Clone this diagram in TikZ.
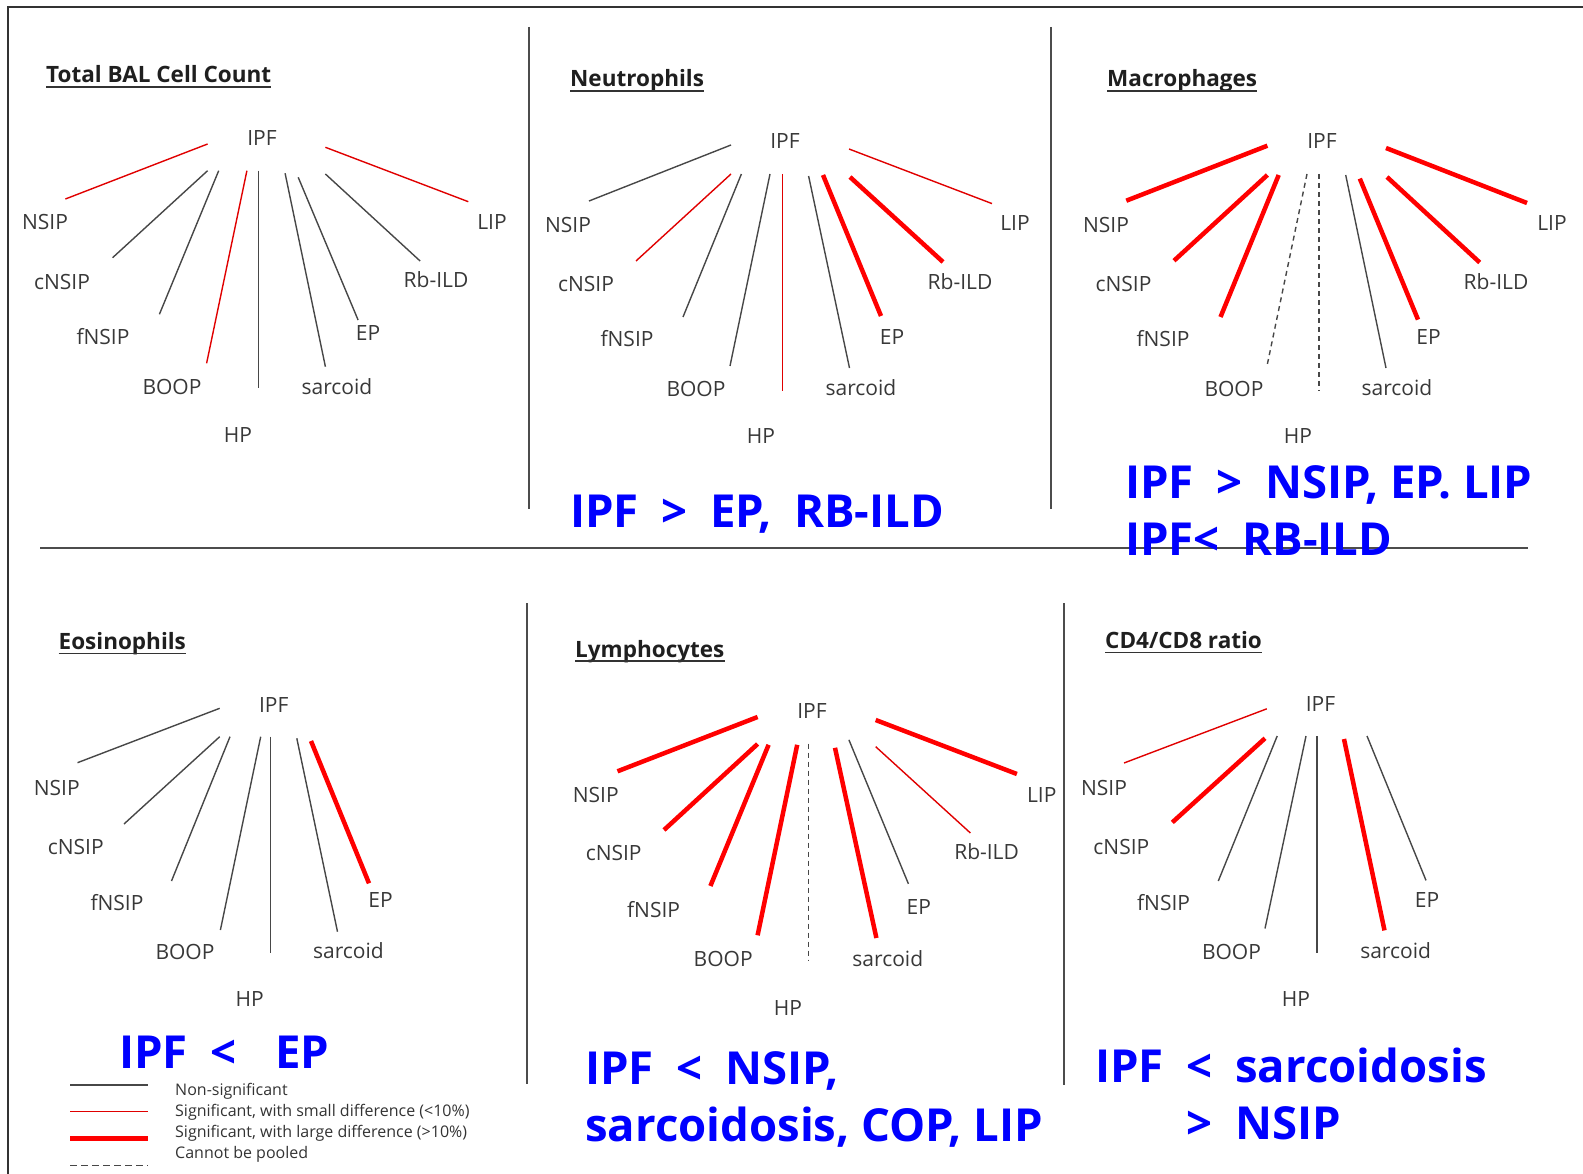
\documentclass[tikz,border=0pt]{standalone}
\usepackage{fontspec}
\setmainfont{Open Sans}
\usetikzlibrary{calc}

\begin{document}
\begin{tikzpicture}[
  x=1pt, y=-1pt,
  lbl/.style={font=\fontsize{21}{25}\selectfont, text=black!78, inner sep=0pt},
  ttl/.style={font=\bfseries\fontsize{22.5}{26}\selectfont, text=black!88, inner sep=0pt, anchor=base west},
  uline/.style={line width=1.6pt, black!80},
  note/.style={font=\bfseries\fontsize{45.5}{57}\selectfont, text=blue, inner sep=0pt, anchor=base west, align=left},
  leg/.style={font=\fontsize{16}{18}\selectfont, text=black!80, inner sep=0pt, anchor=west},
  ns/.style={line width=1.4pt, black!72},
  sigs/.style={line width=1.4pt, red!88!black},
  sigl/.style={line width=4.5pt, red},
  nopool/.style={line width=1.4pt, black!72, dash pattern=on 5pt off 4pt},
  divider/.style={line width=2pt, black!70}
]
\useasboundingbox (0,0) rectangle (1583,1174);

% frame and panel dividers
\coordinate (fr-tl) at (8,7);
\coordinate (fr-tr) at (1583,7);
\coordinate (fr-bl) at (8,1174);
\draw[line width=1.2pt, black!80] (fr-bl) -- (fr-tl) -- (fr-tr);
\coordinate (h-a) at (40,548);   \coordinate (h-b) at (1528,548);
\coordinate (v1-a) at (529,27);  \coordinate (v1-b) at (529,509);
\coordinate (v2-a) at (1050.5,27); \coordinate (v2-b) at (1050.5,509);
\coordinate (v3-a) at (527,603); \coordinate (v3-b) at (527,1084);
\coordinate (v4-a) at (1063.5,603); \coordinate (v4-b) at (1063.5,1085);
\draw[divider] (h-a) -- (h-b);
\draw[divider] (v1-a) -- (v1-b);
\draw[divider] (v2-a) -- (v2-b);
\draw[divider] (v3-a) -- (v3-b);
\draw[divider] (v4-a) -- (v4-b);

% ---------------- Total BAL Cell Count
\node[ttl] (tc-ttl) at (46,83) {Total BAL Cell Count};
\draw[uline] ($(tc-ttl.base west)+(0,4)$) -- ($(tc-ttl.base east)+(0,4)$);
\node[lbl] (tc-ipf) at (262,138) {IPF};
\node[lbl] (tc-nsip) at (45,222) {NSIP};
\node[lbl] (tc-cnsip) at (62,282) {cNSIP};
\node[lbl] (tc-fnsip) at (103,337) {fNSIP};
\node[lbl] (tc-boop) at (172,387) {BOOP};
\node[lbl] (tc-hp) at (238,435) {HP};
\node[lbl] (tc-sarc) at (337,387) {sarcoid};
\node[lbl] (tc-ep) at (368,333) {EP};
\node[lbl] (tc-rb) at (436,280) {Rb-ILD};
\node[lbl] (tc-lip) at (492,222) {LIP};
\coordinate (tc-1a) at (207.6,144);   \coordinate (tc-1b) at (65.4,199);
\coordinate (tc-2a) at (207.6,170.7); \coordinate (tc-2b) at (112.6,257.7);
\coordinate (tc-3a) at (218.7,170.7); \coordinate (tc-3b) at (159.4,314.3);
\coordinate (tc-4a) at (246.9,170.7); \coordinate (tc-4b) at (206.6,363.3);
\coordinate (tc-5a) at (258.3,170.7); \coordinate (tc-5b) at (258.3,387.7);
\coordinate (tc-6a) at (285.1,173.3); \coordinate (tc-6b) at (325.4,366.7);
\coordinate (tc-7a) at (298.2,177.3); \coordinate (tc-7b) at (358.1,320);
\coordinate (tc-8a) at (325.4,174);   \coordinate (tc-8b) at (420.1,261);
\coordinate (tc-9a) at (325.4,147.3); \coordinate (tc-9b) at (468.3,201.7);
\draw[sigs] (tc-1a) -- (tc-1b);
\draw[ns] (tc-2a) -- (tc-2b);
\draw[ns] (tc-3a) -- (tc-3b);
\draw[sigs] (tc-4a) -- (tc-4b);
\draw[ns] (tc-5a) -- (tc-5b);
\draw[ns] (tc-6a) -- (tc-6b);
\draw[ns] (tc-7a) -- (tc-7b);
\draw[ns] (tc-8a) -- (tc-8b);
\draw[sigs] (tc-9a) -- (tc-9b);

% ---------------- Neutrophils
\node[ttl] (ne-ttl) at (570,86.5) {Neutrophils};
\draw[uline] ($(ne-ttl.base west)+(0,4.5)$) -- ($(ne-ttl.base east)+(0,4.5)$);
\node[lbl] (ne-ipf) at (785,141) {IPF};
\node[lbl] (ne-nsip) at (568,225) {NSIP};
\node[lbl] (ne-cnsip) at (586,284) {cNSIP};
\node[lbl] (ne-fnsip) at (627,339) {fNSIP};
\node[lbl] (ne-boop) at (696,389) {BOOP};
\node[lbl] (ne-hp) at (761,436) {HP};
\node[lbl] (ne-sarc) at (861,387.5) {sarcoid};
\node[lbl] (ne-ep) at (892,337.5) {EP};
\node[lbl] (ne-rb) at (960,282) {Rb-ILD};
\node[lbl] (ne-lip) at (1015,223) {LIP};
\coordinate (ne-1a) at (731,145);     \coordinate (ne-1b) at (589,201);
\coordinate (ne-2a) at (731,174);     \coordinate (ne-2b) at (636,261);
\coordinate (ne-3a) at (741.4,174);   \coordinate (ne-3b) at (683,317);
\coordinate (ne-4a) at (770,174);     \coordinate (ne-4b) at (730,366);
\coordinate (ne-5a) at (782.4,174);   \coordinate (ne-5b) at (782.4,391);
\coordinate (ne-6a) at (808.6,176);   \coordinate (ne-6b) at (849.5,368);
\coordinate (ne-7a) at (823,175);     \coordinate (ne-7b) at (881,316);
\coordinate (ne-8a) at (850,177);     \coordinate (ne-8b) at (943,262);
\coordinate (ne-9a) at (849,149);     \coordinate (ne-9b) at (992,203.6);
\draw[ns] (ne-1a) -- (ne-1b);
\draw[sigs] (ne-2a) -- (ne-2b);
\draw[ns] (ne-3a) -- (ne-3b);
\draw[ns] (ne-4a) -- (ne-4b);
\draw[sigs] (ne-5a) -- (ne-5b);
\draw[ns] (ne-6a) -- (ne-6b);
\draw[sigl] (ne-7a) -- (ne-7b);
\draw[sigl] (ne-8a) -- (ne-8b);
\draw[sigs] (ne-9a) -- (ne-9b);
\node[note] (ne-note) at (570,527) {IPF\enspace>\enspace EP,\enspace RB-ILD};

% ---------------- Macrophages
\node[ttl] (ma-ttl) at (1107,86.5) {Macrophages};
\draw[uline] ($(ma-ttl.base west)+(0,4.5)$) -- ($(ma-ttl.base east)+(0,4.5)$);
\node[lbl] (ma-ipf) at (1322,141) {IPF};
\node[lbl] (ma-nsip) at (1106,225) {NSIP};
\node[lbl] (ma-cnsip) at (1123.5,284) {cNSIP};
\node[lbl] (ma-fnsip) at (1163,339) {fNSIP};
\node[lbl] (ma-boop) at (1234,389) {BOOP};
\node[lbl] (ma-hp) at (1298,436) {HP};
\node[lbl] (ma-sarc) at (1397,387.5) {sarcoid};
\node[lbl] (ma-ep) at (1428.6,337.5) {EP};
\node[lbl] (ma-rb) at (1496,282) {Rb-ILD};
\node[lbl] (ma-lip) at (1552,223) {LIP};
\coordinate (ma-1a) at (1267.4,145.7); \coordinate (ma-1b) at (1126.3,200.7);
\coordinate (ma-2a) at (1267.4,175);   \coordinate (ma-2b) at (1174,260.7);
\coordinate (ma-3a) at (1278.7,175);   \coordinate (ma-3b) at (1220.5,317);
\coordinate (ma-4a) at (1307,174);     \coordinate (ma-4b) at (1267.4,364);
\coordinate (ma-5a) at (1319,174);     \coordinate (ma-5b) at (1319,391);
\coordinate (ma-6a) at (1345.7,175);   \coordinate (ma-6b) at (1386,368);
\coordinate (ma-7a) at (1359.8,178.6); \coordinate (ma-7b) at (1418,319.6);
\coordinate (ma-8a) at (1387,177);     \coordinate (ma-8b) at (1479.7,262.5);
\coordinate (ma-9a) at (1386,148);     \coordinate (ma-9b) at (1527,203);
\draw[sigl] (ma-1a) -- (ma-1b);
\draw[sigl] (ma-2a) -- (ma-2b);
\draw[sigl] (ma-3a) -- (ma-3b);
\draw[nopool] (ma-4a) -- (ma-4b);
\draw[nopool] (ma-5a) -- (ma-5b);
\draw[ns] (ma-6a) -- (ma-6b);
\draw[sigl] (ma-7a) -- (ma-7b);
\draw[sigl] (ma-8a) -- (ma-8b);
\draw[sigl] (ma-9a) -- (ma-9b);
\node[note] (ma-note) at (1125,555) {IPF\enspace>\enspace NSIP, EP. LIP\\IPF<\enspace RB-ILD};

% ---------------- Eosinophils
\node[ttl] (eo-ttl) at (58.5,649.5) {Eosinophils};
\draw[uline] ($(eo-ttl.base west)+(0,4)$) -- ($(eo-ttl.base east)+(0,4)$);
\node[lbl] (eo-ipf) at (273.8,705) {IPF};
\node[lbl] (eo-nsip) at (56.8,788) {NSIP};
\node[lbl] (eo-cnsip) at (75.8,846.7) {cNSIP};
\node[lbl] (eo-fnsip) at (117,903) {fNSIP};
\node[lbl] (eo-boop) at (185,951.7) {BOOP};
\node[lbl] (eo-hp) at (249.7,999) {HP};
\node[lbl] (eo-sarc) at (348.5,950.7) {sarcoid};
\node[lbl] (eo-ep) at (380.5,900) {EP};
\coordinate (eo-1a) at (219.7,708.3); \coordinate (eo-1b) at (77.5,762.7);
\coordinate (eo-2a) at (219.7,736.7); \coordinate (eo-2b) at (124,824);
\coordinate (eo-3a) at (230,736.7);   \coordinate (eo-3b) at (171.5,881);
\coordinate (eo-4a) at (260.7,736.7); \coordinate (eo-4b) at (220.4,930);
\coordinate (eo-5a) at (270.3,736.7); \coordinate (eo-5b) at (270.3,953.3);
\coordinate (eo-6a) at (296.8,738.3); \coordinate (eo-6b) at (337.5,931.7);
\coordinate (eo-7a) at (311,741);     \coordinate (eo-7b) at (369,883.3);
\draw[ns] (eo-1a) -- (eo-1b);
\draw[ns] (eo-2a) -- (eo-2b);
\draw[ns] (eo-3a) -- (eo-3b);
\draw[ns] (eo-4a) -- (eo-4b);
\draw[ns] (eo-5a) -- (eo-5b);
\draw[ns] (eo-6a) -- (eo-6b);
\draw[sigl] (eo-7a) -- (eo-7b);
\node[note] (eo-note) at (119,1068) {IPF\enspace<\hspace{0.85em}EP};

% ---------------- Lymphocytes
\node[ttl] (ly-ttl) at (575,657) {Lymphocytes};
\draw[uline] ($(ly-ttl.base west)+(0,4)$) -- ($(ly-ttl.base east)+(0,4)$);
\node[lbl] (ly-ipf) at (812,711.4) {IPF};
\node[lbl] (ly-nsip) at (595.8,794.8) {NSIP};
\node[lbl] (ly-cnsip) at (613.7,852.7) {cNSIP};
\node[lbl] (ly-fnsip) at (653.6,909.5) {fNSIP};
\node[lbl] (ly-boop) at (723.2,958.8) {BOOP};
\node[lbl] (ly-hp) at (788,1008) {HP};
\node[lbl] (ly-sarc) at (887.8,958.8) {sarcoid};
\node[lbl] (ly-ep) at (918.8,906.5) {EP};
\node[lbl] (ly-rb) at (986.6,852) {Rb-ILD};
\node[lbl] (ly-lip) at (1041.7,794.8) {LIP};
\coordinate (ly-1a) at (757.6,717);   \coordinate (ly-1b) at (617.5,771.3);
\coordinate (ly-2a) at (757.6,744);   \coordinate (ly-2b) at (664,830);
\coordinate (ly-3a) at (768.6,744.8); \coordinate (ly-3b) at (710.4,886);
\coordinate (ly-4a) at (797.2,744.8); \coordinate (ly-4b) at (757.6,935.3);
\coordinate (ly-5a) at (808.6,743.6); \coordinate (ly-5b) at (808.6,960);
\coordinate (ly-6a) at (835,747.8);   \coordinate (ly-6b) at (876.4,938);
\coordinate (ly-7a) at (848.9,739.8); \coordinate (ly-7b) at (908.4,883.8);
\coordinate (ly-8a) at (875.7,746.7); \coordinate (ly-8b) at (970.4,833);
\coordinate (ly-9a) at (875.7,720);   \coordinate (ly-9b) at (1016.9,774);
\draw[sigl] (ly-1a) -- (ly-1b);
\draw[sigl] (ly-2a) -- (ly-2b);
\draw[sigl] (ly-3a) -- (ly-3b);
\draw[sigl] (ly-4a) -- (ly-4b);
\draw[nopool] (ly-5a) -- (ly-5b);
\draw[sigl] (ly-6a) -- (ly-6b);
\draw[ns] (ly-7a) -- (ly-7b);
\draw[sigs] (ly-8a) -- (ly-8b);
\draw[sigl] (ly-9a) -- (ly-9b);
\node[note] (ly-note) at (585,1141) {IPF\enspace<\enspace NSIP,\\sarcoidosis, COP, LIP};

% ---------------- CD4/CD8 ratio
\node[ttl] (cd-ttl) at (1105,648.5) {CD4/CD8 ratio};
\draw[uline] ($(cd-ttl.base west)+(0,4)$) -- ($(cd-ttl.base east)+(0,4)$);
\node[lbl] (cd-ipf) at (1320.5,704.2) {IPF};
\node[lbl] (cd-nsip) at (1104,787.6) {NSIP};
\node[lbl] (cd-cnsip) at (1121.4,847) {cNSIP};
\node[lbl] (cd-fnsip) at (1163.6,902.7) {fNSIP};
\node[lbl] (cd-boop) at (1231.5,952) {BOOP};
\node[lbl] (cd-hp) at (1296,999.3) {HP};
\node[lbl] (cd-sarc) at (1395.6,950.5) {sarcoid};
\node[lbl] (cd-ep) at (1427,900) {EP};
\coordinate (cd-1a) at (1266.8,708.8); \coordinate (cd-1b) at (1124,763);
\coordinate (cd-2a) at (1265,738.3);   \coordinate (cd-2b) at (1172.3,822.4);
\coordinate (cd-3a) at (1277.2,736);   \coordinate (cd-3b) at (1218.3,881);
\coordinate (cd-4a) at (1306,736);     \coordinate (cd-4b) at (1265,928.5);
\coordinate (cd-5a) at (1317,736);     \coordinate (cd-5b) at (1317,953);
\coordinate (cd-6a) at (1344,739);     \coordinate (cd-6b) at (1384.5,930.4);
\coordinate (cd-7a) at (1367,736);     \coordinate (cd-7b) at (1426,880.4);
\draw[sigs] (cd-1a) -- (cd-1b);
\draw[sigl] (cd-2a) -- (cd-2b);
\draw[ns] (cd-3a) -- (cd-3b);
\draw[ns] (cd-4a) -- (cd-4b);
\draw[ns] (cd-5a) -- (cd-5b);
\draw[sigl] (cd-6a) -- (cd-6b);
\draw[ns] (cd-7a) -- (cd-7b);
\node[note] (cd-note) at (1095,1139) {IPF\enspace<\enspace sarcoidosis\\\hphantom{IPF\enspace}>\enspace NSIP};

% ---------------- legend
\coordinate (lg-1a) at (70,1085);   \coordinate (lg-1b) at (148,1085);
\coordinate (lg-2a) at (70,1111.7); \coordinate (lg-2b) at (148,1111.7);
\coordinate (lg-3a) at (70,1138.3); \coordinate (lg-3b) at (148,1138.3);
\coordinate (lg-4a) at (70,1165.7); \coordinate (lg-4b) at (148,1165.7);
\draw[ns] (lg-1a) -- (lg-1b);
\draw[sigs] (lg-2a) -- (lg-2b);
\draw[sigl] (lg-3a) -- (lg-3b);
\draw[ns, dash pattern=on 7pt off 4pt] (lg-4a) -- (lg-4b);
\node[leg] (lg-1) at (175,1091.7) {Non-significant};
\node[leg] (lg-2) at (175,1112.7) {Significant, with small difference (<10\%)};
\node[leg] (lg-3) at (175,1133.3) {Significant, with large difference (>10\%)};
\node[leg] (lg-4) at (175,1154) {Cannot be pooled};
\end{tikzpicture}
\end{document}
